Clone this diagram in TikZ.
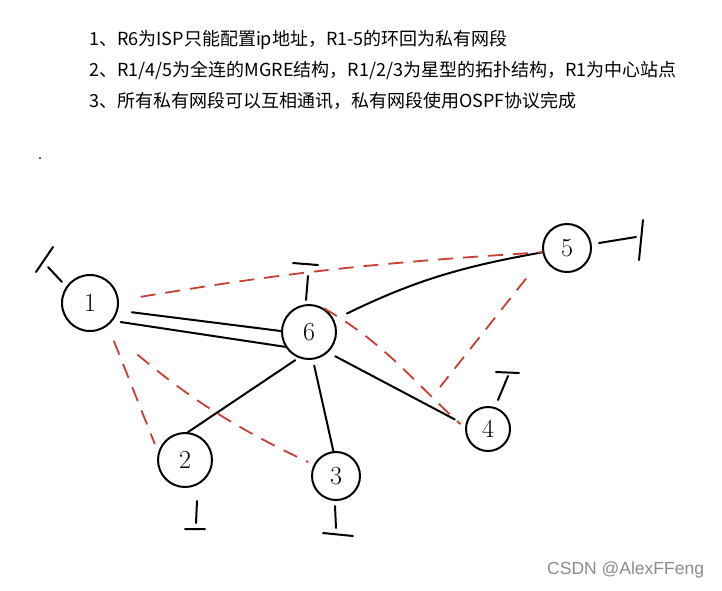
\documentclass[tikz,border=0pt]{standalone}
\usepackage{fontspec}
\newfontfamily\cjk{Noto Sans CJK SC}
\newfontfamily\wmfont{Liberation Sans}
\definecolor{tunred}{RGB}{200,62,50}
\definecolor{wmgray}{RGB}{140,140,140}
\tikzset{
  router/.style={draw=black, line width=2pt, circle, inner sep=0pt, font=\fontsize{26}{26}\selectfont},
  link/.style={draw=black, line width=2pt, line cap=round},
  tunnel/.style={draw=tunred, line width=1.8pt, dash pattern=on 15pt off 10pt},
  note/.style={anchor=west, inner sep=0pt, font=\cjk\fontsize{18}{18}\selectfont},
  wm/.style={anchor=west, inner sep=0pt, text=wmgray, font=\wmfont\fontsize{17.5}{17.5}\selectfont}
}

\begin{document}
\begin{tikzpicture}[x=1pt, y=1pt]
  \useasboundingbox[fill=white] (0,0) rectangle (722,-590);
  \node[note] (l1) at (89,-40) {1、R6为ISP只能配置ip地址，R1-5的环回为私有网段};
  \node[note] (l2) at (89,-70) {2、R1/4/5为全连的MGRE结构，R1/2/3为星型的拓扑结构，R1为中心站点};
  \node[note] (l3) at (89,-101) {3、所有私有网段可以互相通讯，私有网段使用OSPF协议完成};
  \fill (40,-158) circle (1pt);

  \node[router, minimum size=56pt] (R1) at (90,-303) {1};
  \node[router, minimum size=54pt] (R6) at (309,-332) {6};
  \node[router, minimum size=54pt] (R2) at (185,-460) {2};
  \node[router, minimum size=48pt] (R3) at (336,-476) {3};
  \node[router, minimum size=48pt] (R5) at (567,-248) {5};
  \node[router, minimum size=44pt] (R4) at (488,-429) {4};
  \coordinate (j) at (440,-387);

  \draw[link, shorten <=14pt] (R1.-15) -- (R6.178);
  \draw[link, shorten <=8pt] (R1.-38) -- (R6.212);
  \draw[link, shorten <=14pt] (R6.26) to[bend left=8] (R5.190);
  \draw[link, shorten <=8pt, shorten >=12pt] (R6.-47) -- (R4.170);
  \draw[link, shorten <=6pt] (R6.-82) -- (R3.96);
  \draw[link, shorten <=4pt] (R6.-112) -- (R2.84);

  \draw[tunnel, shorten <=22pt] (R1.5) to[bend left=3] (R5.190);
  \draw[tunnel, shorten <=16pt, shorten >=9pt] (R1.-52) -- (R2.164);
  \draw[tunnel, shorten <=42pt, shorten >=6pt] (R1.-58) to[out=-40, in=155] (R3.153);
  \draw[tunnel, shorten >=6pt] (R6.58) to[out=-30, in=138] (R4.178);
  \draw[tunnel, shorten <=28pt] (R5.200) -- (j);

  \draw[link] (R1.center) ++(-28,21) -- ++(-14,15) ++(-12,-5) -- ++(17,25);
  \draw[link] (R6.north) ++(-3,4) -- ++(2,24) ++(-15,13) -- ++(25,-2);
  \draw[link] (R2.south) ++(12,-13) -- ++(-1,-22) ++(-11,-6) -- ++(20,0);
  \draw[link] (R3.south) ++(-1,-5) -- ++(1,-22) ++(-13,-5) -- ++(30,-3);
  \draw[link] (R5.east) ++(7,5) -- ++(37,6) ++(7,17) -- ++(-4,-40);
  \draw[link] (R4.north) ++(10,6) -- ++(10,24) ++(-12,4) -- ++(23,-1);

  \node[wm] (mark) at (547,-570) {CSDN @AlexFFeng};
\end{tikzpicture}
\end{document}
